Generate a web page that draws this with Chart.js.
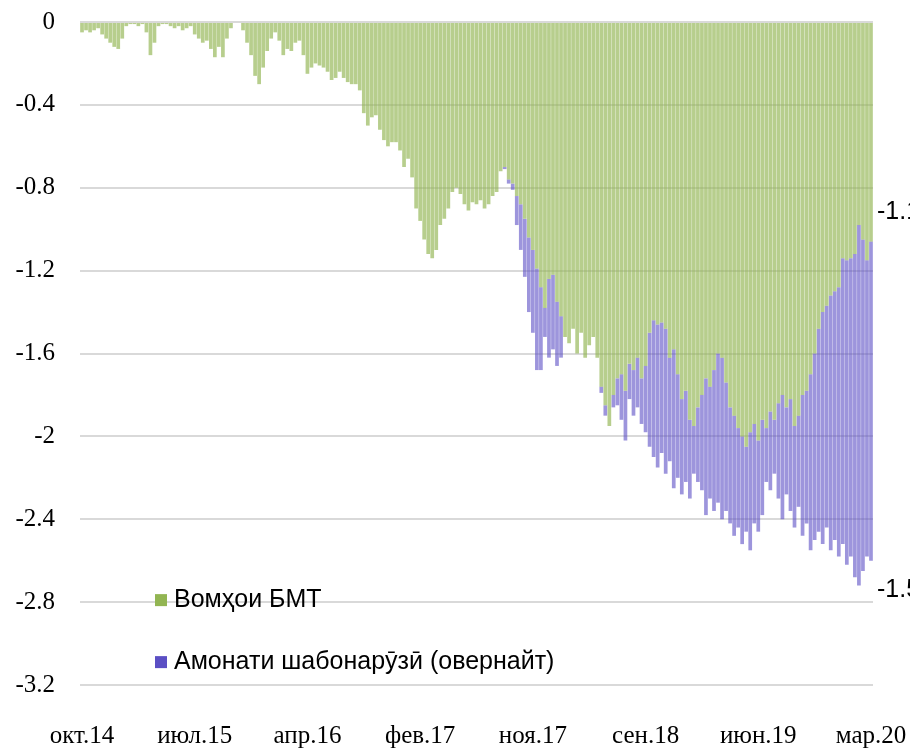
<!DOCTYPE html>
<html lang="tg">
<head>
<meta charset="utf-8">
<title>Вомҳои БМТ ва амонати шабонарӯзӣ</title>
<script src="https://cdn.jsdelivr.net/npm/chart.js@4.4.1/dist/chart.umd.min.js"></script>
<style>
    html, body { margin: 0; padding: 0; background: #fff; overflow: hidden; }
    canvas { display: block; }
</style>
</head>
<body>
<canvas id="chart" width="910" height="750"></canvas>
<script>
// tick labels shown every TICK_EVERY bars along the category axis
const tickLabels = ['окт.14', 'июл.15', 'апр.16', 'фев.17', 'ноя.17', 'сен.18', 'июн.19', 'мар.20'];
const TICK_EVERY = 28;

const seriesNames = ['Вомҳои БМТ', 'Амонати шабонарӯзӣ (овернайт)'];

// Вомҳои БМТ
const loans = [
    -0.05, -0.04, -0.05, -0.04, -0.03, -0.06, -0.08, -0.10, -0.12, -0.13,
    -0.08, -0.02, -0.01, -0.01, -0.02, -0.01, -0.05, -0.16, -0.10, -0.02,
    -0.01, -0.01, -0.02, -0.03, -0.02, -0.04, -0.03, -0.02, -0.06, -0.08,
    -0.10, -0.09, -0.13, -0.17, -0.12, -0.17, -0.08, -0.03, 0, 0,
    -0.04, -0.10, -0.16, -0.26, -0.30, -0.22, -0.14, -0.08, -0.05, -0.09,
    -0.16, -0.13, -0.14, -0.10, -0.09, -0.16, -0.25, -0.22, -0.20, -0.21,
    -0.22, -0.24, -0.28, -0.27, -0.24, -0.27, -0.29, -0.30, -0.30, -0.33,
    -0.44, -0.50, -0.46, -0.45, -0.52, -0.57, -0.60, -0.58, -0.58, -0.62,
    -0.70, -0.66, -0.75, -0.90, -0.96, -1.05, -1.12, -1.14, -1.10, -0.98,
    -0.95, -0.90, -0.82, -0.80, -0.83, -0.88, -0.91, -0.87, -0.88, -0.86,
    -0.90, -0.88, -0.84, -0.82, -0.72, -0.70, -0.76, -0.78, -0.84, -0.88,
    -0.95, -1.04, -1.10, -1.19, -1.28, -1.38, -1.24, -1.22, -1.35, -1.42,
    -1.52, -1.55, -1.48, -1.60, -1.50, -1.62, -1.56, -1.52, -1.62, -1.76,
    -1.85, -1.95, -1.80, -1.72, -1.70, -1.78, -1.65, -1.68, -1.62, -1.72,
    -1.66, -1.50, -1.44, -1.46, -1.45, -1.48, -1.62, -1.58, -1.70, -1.82,
    -1.78, -1.92, -1.95, -1.86, -1.80, -1.72, -1.76, -1.68, -1.60, -1.62,
    -1.74, -1.86, -1.90, -1.96, -2.00, -2.05, -1.98, -1.94, -2.02, -1.92,
    -1.96, -1.88, -1.92, -1.84, -1.80, -1.86, -1.82, -1.95, -1.90, -1.80,
    -1.78, -1.70, -1.60, -1.48, -1.40, -1.37, -1.32, -1.30, -1.28, -1.14,
    -1.15, -1.14, -1.12, -0.98, -1.05, -1.15, -1.06
];

// Амонати шабонарӯзӣ (овернайт), stacked under the loans
const overnight = [
    0, 0, 0, 0, 0, 0, 0, 0, 0, 0, 0, 0, 0, 0, 0, 0, 0, 0, 0, 0,
    0, 0, 0, 0, 0, 0, 0, 0, 0, 0, 0, 0, 0, 0, 0, 0, 0, 0, 0, 0,
    0, 0, 0, 0, 0, 0, 0, 0, 0, 0, 0, 0, 0, 0, 0, 0, 0, 0, 0, 0,
    0, 0, 0, 0, 0, 0, 0, 0, 0, 0, 0, 0, 0, 0, 0, 0, 0, 0, 0, 0,
    0, 0, 0, 0, 0, 0, 0, 0, 0, 0, 0, 0, 0, 0, 0, 0, 0, 0, 0, 0,
    0, 0, 0, 0, 0, -0.01, -0.02, -0.03,
    -0.14, -0.22, -0.28, -0.36, -0.40, -0.49, -0.40, -0.14, -0.38, -0.36, -0.31, -0.20,
    0, 0, 0, 0, 0, 0, 0, 0, 0, -0.03, -0.05, 0, -0.06,
    -0.13, -0.22, -0.24, -0.17, -0.22, -0.24, -0.22,
    -0.32, -0.55, -0.66, -0.69, -0.63, -0.70, -0.50, -0.67, -0.50, -0.46,
    -0.44, -0.38, -0.23, -0.36, -0.46, -0.66, -0.54, -0.68, -0.72, -0.78,
    -0.62, -0.56, -0.58, -0.48, -0.52, -0.41, -0.57, -0.48, -0.44, -0.46,
    -0.26, -0.38, -0.26, -0.46, -0.60, -0.42, -0.54, -0.49, -0.44, -0.68,
    -0.64, -0.85, -0.90, -0.98, -1.12, -1.07, -1.23, -1.20, -1.30, -1.38,
    -1.47, -1.44, -1.56, -1.74, -1.60, -1.43, -1.54
];

const GREEN = '#92b552';
const PURPLE = '#5b4fc4';

// one category per bar, only every TICK_EVERY-th gets a visible name
const categories = loans.map((_, i) => (i % TICK_EVERY === 0 ? (tickLabels[i / TICK_EVERY] || '') : ''));

const fmt = (v) => String(Math.round(v * 10) / 10);

/**
 * Legend inside the plot (bottom left) and the cut-off value labels
 * to the right of the last bar.
 */
const overlayPlugin = {
    id: 'overlay',
    afterDatasetsDraw(chart) {
        const { ctx, chartArea, scales } = chart;
        const y = scales.y;
        const last = loans.length - 1;

        ctx.save();
        ctx.font = '25px "Liberation Sans", Arial, sans-serif';
        ctx.fillStyle = '#000';
        ctx.textBaseline = 'middle';
        ctx.textAlign = 'left';

        // end-of-series labels
        const gEnd = y.getPixelForValue(loans[last]);
        const tEnd = y.getPixelForValue(loans[last] + overnight[last]);
        ctx.fillText(fmt(loans[last]), chartArea.right + 4, gEnd - 30);
        ctx.fillText(fmt(overnight[last]), chartArea.right + 4, tEnd + 29);

        // legend
        const lx = chartArea.left + 75;
        const rows = [
            { name: seriesNames[0], color: GREEN, cy: y.getPixelForValue(-2.8) - 2 },
            { name: seriesNames[1], color: PURPLE, cy: y.getPixelForValue(-2.8) + 60 },
        ];
        rows.forEach((r) => {
            ctx.fillStyle = r.color;
            ctx.fillRect(lx, r.cy - 6, 12, 12);
            ctx.fillStyle = '#000';
            ctx.fillText(r.name, lx + 19, r.cy);
        });
        ctx.restore();
    }
};

new Chart(document.getElementById('chart'), {
    type: 'bar',
    data: {
        labels: categories,
        datasets: [
            {
                label: seriesNames[0],
                data: loans,
                backgroundColor: 'rgba(146,181,82,0.66)',
                stack: 's',
                barPercentage: 0.92,
                categoryPercentage: 1,
            },
            {
                label: seriesNames[1],
                data: overnight,
                backgroundColor: 'rgba(91,79,196,0.6)',
                stack: 's',
                barPercentage: 0.92,
                categoryPercentage: 1,
            }
        ]
    },
    options: {
        responsive: false,
        animation: false,
        devicePixelRatio: 1,
        layout: { padding: { top: 22, right: 37, left: 0, bottom: 0 } },
        plugins: {
            legend: { display: false },
            tooltip: { enabled: false },
        },
        scales: {
            x: {
                stacked: true,
                offset: true,
                grid: { display: false, drawTicks: false },
                border: { display: false },
                ticks: {
                    autoSkip: false,
                    maxRotation: 0,
                    padding: 36,
                    color: '#000',
                    font: { family: '"Liberation Serif", serif', size: 25 },
                    callback: (val, idx) => categories[idx],
                },
                // fixed height, and no extra side padding from the tick padding
                afterFit: (scale) => {
                    scale.height = 65;
                    scale.paddingLeft = 0;
                    scale.paddingRight = 0;
                },
            },
            y: {
                stacked: true,
                min: -3.2,
                max: 0,
                grid: { color: '#d9d9d9', lineWidth: 2, drawTicks: false },
                border: { display: false },
                ticks: {
                    stepSize: 0.4,
                    padding: 25,
                    color: '#000',
                    font: { family: '"Liberation Serif", serif', size: 25 },
                    callback: (v) => fmt(v),
                },
                afterFit: (scale) => {
                    scale.width = 80;
                    scale.paddingTop = 0;
                    scale.paddingBottom = 0;
                },
            }
        }
    },
    plugins: [overlayPlugin]
});
</script>
</body>
</html>
